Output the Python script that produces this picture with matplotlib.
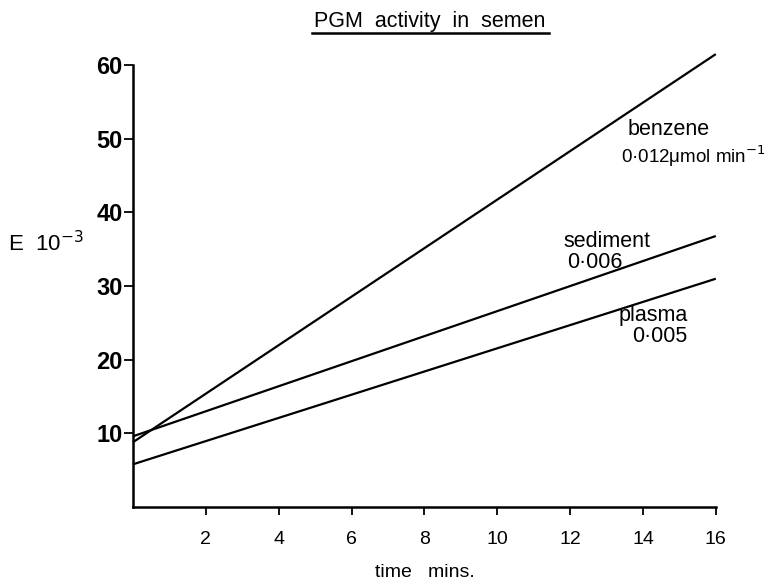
import matplotlib
matplotlib.use("Agg")
import matplotlib.pyplot as plt
import numpy as np

plt.rcParams['font.family'] = ['Liberation Sans', 'DejaVu Sans']

# data
x_ends = [0, 16]
benzene = [8.8, 61.5]
sediment = [9.6, 36.8]
plasma = [5.8, 31.0]
x_ticks = [2, 4, 6, 8, 10, 12, 14, 16]
y_ticks = [10, 20, 30, 40, 50, 60]

fig = plt.figure(figsize=(7.75, 5.86), dpi=100)
ax = fig.add_axes([0.1716, 0.1348, 0.752, 0.754])

for ys in (benzene, sediment, plasma):
    ax.plot(x_ends, ys, color='black', lw=1.6, clip_on=False, solid_capstyle='butt')

ax.set_xlim(0, 16)
ax.set_ylim(0, 60)
ax.spines['top'].set_visible(False)
ax.spines['right'].set_visible(False)
for s in ('left', 'bottom'):
    ax.spines[s].set_linewidth(1.8)
ax.set_xticks(x_ticks)
ax.set_xticklabels([str(t) for t in x_ticks], fontsize=14)
ax.set_yticks(y_ticks)
ax.set_yticklabels([str(t) for t in y_ticks], fontsize=17, fontweight='bold')
ax.tick_params(axis='x', direction='out', length=6, width=1.3, pad=11)
ax.tick_params(axis='y', direction='out', length=6.5, width=1.3, pad=1)

ax.set_xlabel('time   mins.', fontsize=14, labelpad=12)

fig.text(0.010, 0.584, 'E  10$^{-3}$', fontsize=16, ha='left', va='center')
fig.text(0.555, 0.954, 'PGM  activity  in  semen', fontsize=15.5, ha='center', va='baseline')
fig.add_artist(plt.Line2D([0.402, 0.708], [0.944, 0.944], color='black', lw=1.8))

ax.text(13.57, 51.2, 'benzene', fontsize=15.5, ha='left', va='center')
ax.text(13.40, 47.6, '0·012μmol min$^{-1}$', fontsize=13.5, ha='left', va='center')
ax.text(11.81, 36.1, 'sediment', fontsize=15.5, ha='left', va='center')
ax.text(11.92, 33.2, '0·006', fontsize=15.5, ha='left', va='center')
ax.text(13.32, 26.0, 'plasma', fontsize=15.5, ha='left', va='center')
ax.text(13.71, 23.1, '0·005', fontsize=15.5, ha='left', va='center')

fig.savefig('out.png', dpi=100)
